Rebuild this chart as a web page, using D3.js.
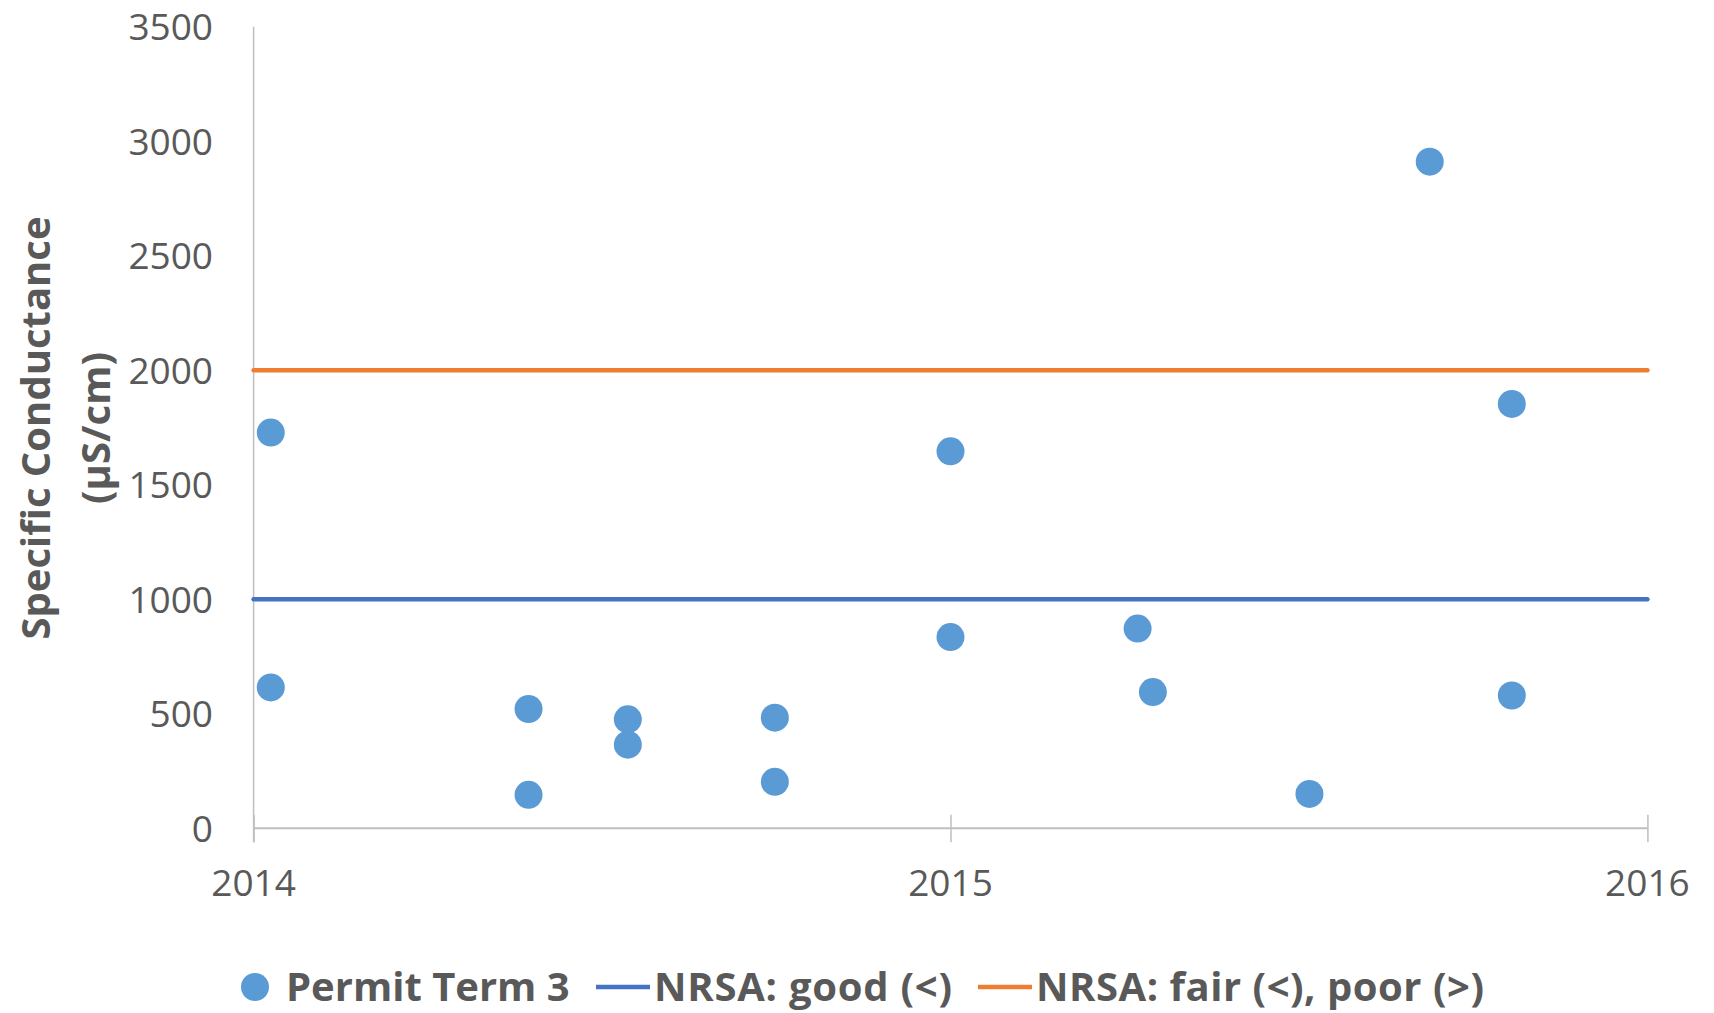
<!DOCTYPE html>
<html>
<head>
<meta charset="utf-8">
<script src="https://cdn.jsdelivr.net/npm/d3@7"></script>
<style>
    body { margin: 0; background: #fff; }
    svg { display: block; font-family: "Open Sans", sans-serif; }
    .tick-label { font-size: 37px; fill: #595959; }
    .axis-title, .legend-label { font-size: 40px; font-weight: bold; fill: #595959; }
</style>
</head>
<body>
<div id="chart"></div>
<script>
const sampleDates = ["2014-01-10", "2014-01-10", "2014-05-25", "2014-05-25", "2014-07-16", "2014-07-16",
    "2014-10-01", "2014-10-01", "2015-01-01", "2015-01-01", "2015-04-09", "2015-04-17",
    "2015-07-08", "2015-09-09", "2015-10-22", "2015-10-22"];
const conductance = [1728, 615, 521, 146, 476, 365, 483, 203, 1646, 835, 872, 595, 150, 2911, 1853, 580];
const thresholds = [
    { name: "NRSA: good (<)", value: 1000, color: "#4472C4" },
    { name: "NRSA: fair (<), poor (>)", value: 2000, color: "#ED7D31" }
];
const yTicks = [0, 500, 1000, 1500, 2000, 2500, 3000, 3500];
const xTicks = ["2014", "2015", "2016"];
const seriesName = "Permit Term 3";

const chart = {
    width: 1714,
    height: 1013,
    plot: { left: 253.6, right: 1647.4, top: 26.8, bottom: 828.3 },
    svg: null,
    x: null,
    y: null,

    init(container) {
        this.svg = d3.select(container).append("svg")
            .attr("width", this.width)
            .attr("height", this.height);

        const parse = d3.timeParse("%Y-%m-%d");
        const years = xTicks.map(t => d3.timeParse("%Y")(t));

        this.x = d3.scaleTime()
            .domain([years[0], years[years.length - 1]])
            .range([this.plot.left, this.plot.right]);
        this.y = d3.scaleLinear()
            .domain([0, 3500])
            .range([this.plot.bottom, this.plot.top]);

        this.points = sampleDates.map((d, i) => ({ date: parse(d), value: conductance[i] }));

        this.drawAxes(years);
        this.drawThresholds();
        this.drawPoints();
        this.drawLegend();
    },

    drawAxes(years) {
        const axisColor = "#BFBFBF";

        // x axis with crossing ticks
        const xAxis = this.svg.append("g")
            .attr("transform", `translate(0,${this.plot.bottom})`)
            .call(d3.axisBottom(this.x).tickValues(years).tickSize(14).tickFormat(""));
        xAxis.select(".domain").remove();
        xAxis.selectAll(".tick line")
            .attr("y1", -13.5)
            .attr("stroke", axisColor)
            .attr("stroke-width", 1.5);
        xAxis.append("line")
            .attr("x1", this.plot.left).attr("x2", this.plot.right)
            .attr("stroke", axisColor).attr("stroke-width", 2);

        this.svg.append("g").selectAll("text")
            .data(years)
            .join("text")
            .attr("class", "tick-label")
            .attr("x", d => this.x(d))
            .attr("y", 896)
            .attr("text-anchor", "middle")
            .text(d3.timeFormat("%Y"));

        // y axis
        this.svg.append("line")
            .attr("x1", this.plot.left).attr("x2", this.plot.left)
            .attr("y1", this.plot.top).attr("y2", this.plot.bottom + 14)
            .attr("stroke", axisColor).attr("stroke-width", 1.5);

        this.svg.append("g").selectAll("text")
            .data(yTicks)
            .join("text")
            .attr("class", "tick-label")
            .attr("x", 213)
            .attr("y", d => this.y(d))
            .attr("dy", "0.36em")
            .attr("text-anchor", "end")
            .text(d => d);

        const title = this.svg.append("text")
            .attr("class", "axis-title")
            .attr("transform", "translate(36,428) rotate(-90)")
            .attr("text-anchor", "middle");
        title.append("tspan").attr("x", 0).attr("dy", "0.35em").text("Specific Conductance");
        title.append("tspan").attr("x", 0).attr("dy", 60).text("(µS/cm)");
    },

    drawThresholds() {
        this.svg.append("g").selectAll("line")
            .data(thresholds)
            .join("line")
            .attr("x1", this.plot.left)
            .attr("x2", this.plot.right)
            .attr("y1", d => this.y(d.value))
            .attr("y2", d => this.y(d.value))
            .attr("stroke", d => d.color)
            .attr("stroke-width", 4.5)
            .attr("stroke-linecap", "round");
    },

    drawPoints() {
        this.svg.append("g").selectAll("circle")
            .data(this.points)
            .join("circle")
            .attr("cx", d => this.x(d.date))
            .attr("cy", d => this.y(d.value))
            .attr("r", 14)
            .attr("fill", "#5B9BD5");
    },

    drawLegend() {
        const ly = 987;
        const legend = this.svg.append("g");

        legend.append("circle")
            .attr("cx", 255).attr("cy", ly).attr("r", 14)
            .attr("fill", "#5B9BD5");
        legend.append("text")
            .attr("class", "legend-label")
            .attr("x", 286).attr("y", ly).attr("dy", "0.35em")
            .text(seriesName);

        // widths stretched a little to match the original wider font
        const lineX = [596, 978];
        const textX = [654, 1036];
        const textW = [298, 448];
        thresholds.forEach((t, i) => {
            legend.append("line")
                .attr("x1", lineX[i]).attr("x2", lineX[i] + 54)
                .attr("y1", ly).attr("y2", ly)
                .attr("stroke", t.color).attr("stroke-width", 4.5);
            legend.append("text")
                .attr("class", "legend-label")
                .attr("x", textX[i]).attr("y", ly).attr("dy", "0.35em")
                .attr("textLength", textW[i])
                .attr("lengthAdjust", "spacing")
                .text(t.name);
        });
    }
};

chart.init("#chart");
</script>
</body>
</html>
